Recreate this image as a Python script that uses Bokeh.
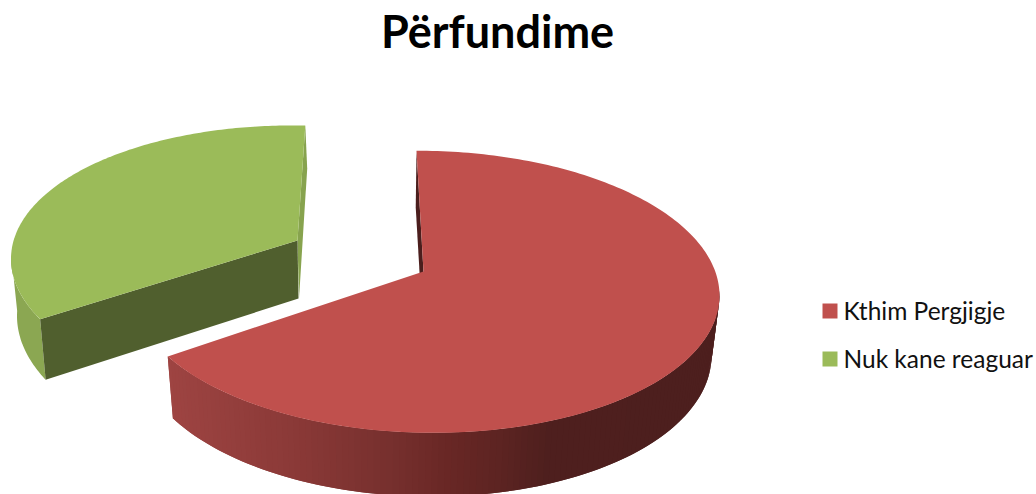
import math
from bokeh.plotting import figure
from bokeh.models import Range1d
from bokeh.core.properties import value
from bokeh.embed import file_html
from bokeh.resources import INLINE

title_text = "Përfundime"
categories = ["Kthim Pergjigje", "Nuk kane reaguar"]
values = [67.5, 32.5]
top_colors = ["#C0504D", "#9BBB59"]

# Projection of each slice's top and bottom rim: centre x, centre y, half-width, half-height
SKEW = 0.0125
red_top = (425, 291.3, 294, 141)
red_bot = (424, 351.5, 287, 144.5)
green_top = (299.5, 262, 289, 137)
green_bot = (300.5, 319, 284, 145)
red_apex = (423, 271)
green_apex = (297, 240)
DEPTH_R = (-0.5, 60)
DEPTH_G = (1, 58)

START = -1.75
GAP = 2.8

def rim(e, t):
    cx, cy, a, b = e
    r = math.radians(t)
    return cx + a * math.sin(r), cy - b * math.cos(r) + SKEW * a * math.sin(r)

def sweep(t0, t1, n):
    return [t0 + (t1 - t0) * i / n for i in range(n + 1)]

def shade(x):
    stops = [(170, (158, 68, 66)), (300, (138, 57, 55)), (400, (117, 47, 45)),
             (450, (105, 39, 37)), (500, (93, 36, 34)), (550, (78, 31, 30)), (1000, (75, 30, 29))]
    for (x0, c0), (x1, c1) in zip(stops, stops[1:]):
        if x <= x1:
            f = max(0, (x - x0) / (x1 - x0))
            return "#%02x%02x%02x" % tuple(round(u + (v - u) * f) for u, v in zip(c0, c1))
    return "#4b1e1d"

total = sum(values)
red_t0 = START
red_t1 = red_t0 + 360 * values[0] / total
green_t0 = red_t1 + GAP
green_t1 = green_t0 + 360 * values[1] / total

p = figure(width=1036, height=494, x_range=Range1d(0, 1036), y_range=Range1d(494, 0),
           output_backend="svg", toolbar_location=None, min_border=0,
           outline_line_color=None, background_fill_color="white", border_fill_color="white")
p.xaxis.visible = False
p.yaxis.visible = False
p.grid.visible = False

# Green slice
ts = sweep(green_t0, 272, 40)
xs = [rim(green_top, t)[0] for t in ts] + [rim(green_bot, t)[0] for t in reversed(ts)]
ys = [rim(green_top, t)[1] for t in ts] + [rim(green_bot, t)[1] for t in reversed(ts)]
p.patch(xs, ys, fill_color="#8BA752", line_color=None)

gtx, gty = rim(green_top, green_t1)
gbx, gby = rim(green_bot, green_t1)
p.patch([gtx, gbx + 1, green_apex[0] + DEPTH_G[0] + 0.5, green_apex[0]],
        [gty, gby - 6, green_apex[1] + DEPTH_G[1], green_apex[1]],
        fill_color="#87A34E", line_color=None)

c0x, c0y = rim(green_top, green_t0)
c1x, c1y = rim(green_bot, green_t0)
p.patch([c0x, green_apex[0], green_apex[0] + DEPTH_G[0], c1x],
        [c0y, green_apex[1], green_apex[1] + DEPTH_G[1], c1y],
        fill_color="#505F2E", line_color=None)

ts = sweep(green_t0, green_t1, 160)
p.patch([green_apex[0]] + [rim(green_top, t)[0] for t in ts],
        [green_apex[1]] + [rim(green_top, t)[1] for t in ts],
        fill_color=top_colors[1], line_color=None)

# Red slice: outer wall in shaded strips, each overlapping the next so that no seams show
band = sweep(88, red_t1, 120)
sx, sy, sc = [], [], []
for i in range(len(band) - 1):
    t0, t1 = band[i], band[min(i + 2, len(band) - 1)]
    a, b = rim(red_top, t0), rim(red_top, t1)
    c, d = rim(red_bot, t1), rim(red_bot, t0)
    sx.append([a[0], b[0], c[0], d[0]])
    sy.append([a[1], b[1], c[1], d[1]])
    sc.append(shade((a[0] + d[0]) / 2))
p.patches(sx, sy, fill_color=sc, line_color=None)

# Red slice: inner wall that shows as a sliver
r0x, r0y = rim(red_top, red_t0)
r1x, r1y = rim(red_bot, red_t0)
p.patch([r0x, r1x, red_apex[0] + DEPTH_R[0], red_apex[0]],
        [r0y, r1y, red_apex[1] + DEPTH_R[1], red_apex[1]],
        fill_color="#4B1E1D", line_color=None)

ts = sweep(red_t0, red_t1, 240)
p.patch([red_apex[0]] + [rim(red_top, t)[0] for t in ts],
        [red_apex[1]] + [rim(red_top, t)[1] for t in ts],
        fill_color=top_colors[0], line_color=None)

# Title
p.text([497], [30], text=[title_text], text_font=value("Lato"), text_font_style="bold",
       text_font_size="45px", text_align="center", text_baseline="alphabetic", text_color="#000000")

# Legend
leg_y = [318, 366]
p.quad(left=[822, 822], right=[837, 837], top=[y - 15 for y in leg_y], bottom=leg_y,
       fill_color=top_colors, line_color=None)
p.text([843, 843], [y - 8 for y in leg_y], text=categories, text_font=value("Lato"), text_font_size="24.5px",
       text_align="left", text_baseline="alphabetic", text_color="#111111")

open("out.html", "w").write(file_html(p, INLINE))
